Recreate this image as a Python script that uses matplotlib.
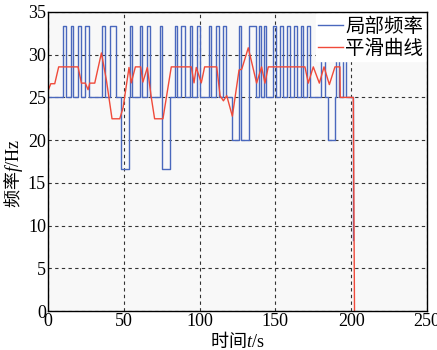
import matplotlib.pyplot as plt
import numpy as np

# local frequency (step series): breakpoint time and level after it
blue_t = [0, 9.9, 11.6, 14.9, 16.7, 19.8, 21.5, 24.6, 26.8, 35.8, 37.8, 40.9, 45.1,
          47.9, 53.2, 53.8, 55.6, 60.4, 62.2, 65.3, 67.0, 73.6, 75.4, 80.7,
          83.5, 85.3, 87.9, 90.1, 93.4, 95.2, 98.2, 100.3,
          105.9, 107.8, 110.5, 112.5, 115.4, 117.4, 121.4, 125.7, 127.6, 132.3, 136.9,
          138.9, 140.8, 142.5, 144.1, 148.7, 150.7, 153.0, 155.0, 157.7, 159.6,
          162.3, 164.2, 166.6, 168.5, 170.8, 172.8, 180.4, 182.7, 185.0, 189.6,
          190.0, 192.0, 194.6, 196.6, 201.2, 201.2]
blue_f = [25, 33.33, 25, 33.33, 25, 33.33, 25, 33.33, 25, 33.33, 25, 33.33, 25,
          16.67, 25, 33.33, 25, 33.33, 25, 33.33, 25, 33.33, 16.67, 25,
          33.33, 25, 33.33, 25, 33.33, 25, 33.33, 25,
          33.33, 25, 33.33, 25, 33.33, 25, 20, 33.33, 20, 33.33, 25,
          33.33, 25, 33.33, 25, 33.33, 25, 33.33, 25, 33.33, 25,
          33.33, 25, 33.33, 25, 33.33, 25, 33.33, 25, 20, 25,
          33.33, 25, 33.33, 25, 8.3, 8.3]

# smoothed curve
red_t = [0, 1.8, 4.4, 7.0, 19.8, 22.0, 24.6, 26.4, 27.5, 30.8, 35.2, 38.5, 42.2, 47.3,
         49.5, 53.4, 54.9, 57.6, 61.1, 62.6, 65.5, 68.1, 70.3, 75.8, 81.3, 94.5, 96.3,
         97.8, 101.1, 103.3, 111.3, 113.5, 115.7, 117.9, 121.6, 126.0, 127.8, 132.1,
         137.6, 140.9, 143.1, 145.3, 169.5, 171.7, 175.0, 179.0, 182.1, 185.6, 189.3,
         192.6, 192.8, 201.4, 202.2]
red_f = [25.8, 26.6, 26.6, 28.57, 28.57, 26.67, 26.67, 25.9, 26.67, 26.67, 30.2, 27.0, 22.5, 22.5,
         23.8, 28.5, 26.7, 28.57, 28.57, 26.8, 28.5, 25.0, 22.5, 22.5, 28.57, 28.57, 26.7,
         28.5, 26.7, 28.57, 28.57, 25.2, 24.6, 25.2, 22.8, 28.2, 28.3, 30.8,
         26.67, 28.57, 26.67, 28.57, 28.57, 26.67, 28.57, 26.67, 28.57, 26.5, 28.57,
         28.57, 25.0, 25.0, 0]

plt.rcParams["mathtext.fontset"] = "custom"
plt.rcParams["mathtext.it"] = "Liberation Serif:italic"
plt.rcParams["mathtext.rm"] = "Liberation Serif"
cjk = "Noto Sans CJK SC"
serif = "Liberation Serif"

fig = plt.figure(figsize=(4.37, 3.5), dpi=100)
ax = fig.add_axes([0.110, 0.111, 0.867, 0.855])
ax.set_facecolor("#f8f8f8")

ax.plot(blue_t, blue_f, drawstyle="steps-post", color="#4a68bd", linewidth=1.0, label="局部频率")
ax.plot(red_t, red_f, color="#f04a3a", linewidth=1.0, label="平滑曲线")

ax.set_xlim(0, 250)
ax.set_ylim(0, 35)
ax.set_xticks(np.arange(0, 251, 50))
ax.set_yticks(np.arange(0, 36, 5))
ax.grid(True, color="#333333", linestyle=(0, (3, 3)), linewidth=0.8)
ax.tick_params(axis="both", direction="in", length=0, pad=1.5, labelsize=13)
for lab in ax.get_xticklabels() + ax.get_yticklabels():
    lab.set_fontfamily(serif)
for s in ax.spines.values():
    s.set_linewidth(1.0)

ax.set_xlabel("时间$t/\\mathrm{s}$", fontfamily=cjk, fontsize=13, labelpad=0)
ax.set_ylabel("频率$f/\\mathrm{Hz}$", fontfamily=cjk, fontsize=13)
ax.yaxis.set_label_coords(-0.062, 0.46)

leg = ax.legend(loc="upper right", bbox_to_anchor=(1.0, 1.0), prop={"family": cjk, "size": 14},
                frameon=True, fancybox=False, edgecolor="white", framealpha=1.0,
                handlelength=1.3, handletextpad=0.1, borderpad=0.1, labelspacing=0.05,
                borderaxespad=0.1)

fig.savefig("out.png", dpi=100)
